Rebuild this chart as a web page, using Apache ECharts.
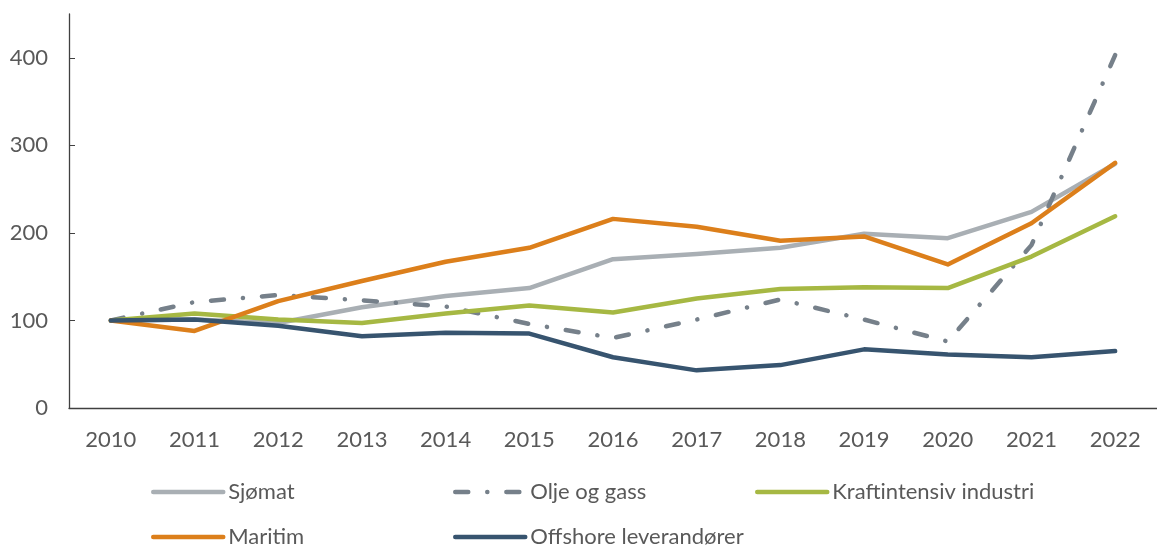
<!DOCTYPE html>
<html>
<head>
<meta charset="utf-8">
<script src="https://cdn.jsdelivr.net/npm/echarts@6/dist/echarts.min.js"></script>
<style>
  html, body { margin: 0; padding: 0; background: #fff; }
  #chart { width: 1157px; height: 547px; }
</style>
</head>
<body>
<div id="chart"></div>
<script>
// data (index, 2010 = 100)
const years = ['2010', '2011', '2012', '2013', '2014', '2015', '2016', '2017', '2018', '2019', '2020', '2021', '2022']
const sjomat = [100, 101, 97, 115, 128, 137, 170, 176, 183, 199, 194, 224, 279]
const oljeGass = [100, 121, 129, 123, 116, 96, 80, 101, 124, 101, 76, 186, 403]
const kraftintensiv = [100, 108, 101, 97, 108, 117, 109, 125, 136, 138, 137, 173, 219]
const maritim = [100, 88, 122, 145, 167, 183, 216, 207, 191, 196, 164, 211, 280]
const offshore = [100, 101, 94, 82, 86, 85, 58, 43, 49, 67, 61, 58, 65]

const names = ['Sjømat', 'Olje og gass', 'Kraftintensiv industri', 'Maritim', 'Offshore leverandører']
const colors = ['#A9AFB4', '#76808A', '#A6B843', '#DC7F1B', '#37546F']

const font = 'Lato, "Open Sans", sans-serif'
const textColor = '#595959'
const dashPattern = [13, 19, 0.1, 19]

const chart = echarts.init(document.getElementById('chart'))

// legend placement: [left, top] for each entry
const legendPos = [[151, 481], [453, 481], [755, 481], [151, 526], [453, 526]]

const makeSeries = (name, data, color, dashed) => ({
  name: name,
  type: 'line',
  data: data,
  symbol: 'none',
  color: color,
  lineStyle: {
    color: color,
    width: 4.5,
    type: dashed ? dashPattern : 'solid',
    cap: 'round',
    join: 'round'
  }
})

const option = {
  animation: false,
  backgroundColor: '#fff',
  grid: {
    left: 69,
    top: 14,
    width: 1097,
    bottom: 139
  },
  legend: names.map((n, i) => ({
    data: [n],
    left: legendPos[i][0],
    top: legendPos[i][1],
    padding: 0,
    itemWidth: 70,
    itemHeight: 20,
    itemStyle: { opacity: 0 },
    lineStyle: { width: 4.5, cap: 'round', type: i === 1 ? dashPattern : 'solid' },
    textStyle: { fontFamily: font, fontSize: 22, color: textColor }
  })),
  xAxis: {
    type: 'category',
    data: years,
    boundaryGap: true,
    axisLine: { lineStyle: { color: '#404040', width: 1.3 } },
    axisTick: { show: false },
    axisLabel: { fontFamily: font, fontSize: 22, color: textColor, margin: 21 }
  },
  yAxis: {
    type: 'value',
    min: 0,
    max: 450,
    interval: 100,
    splitLine: { show: false },
    axisLine: { show: true, lineStyle: { color: '#404040', width: 1.3 } },
    axisTick: { show: true, inside: true, length: 6, lineStyle: { color: '#404040' } },
    axisLabel: { fontFamily: font, fontSize: 22, color: textColor, margin: 21, showMaxLabel: false }
  },
  series: [
    makeSeries(names[0], sjomat, colors[0], false),
    makeSeries(names[1], oljeGass, colors[1], true),
    makeSeries(names[2], kraftintensiv, colors[2], false),
    makeSeries(names[3], maritim, colors[3], false),
    makeSeries(names[4], offshore, colors[4], false)
  ]
}

chart.setOption(option)
</script>
</body>
</html>
